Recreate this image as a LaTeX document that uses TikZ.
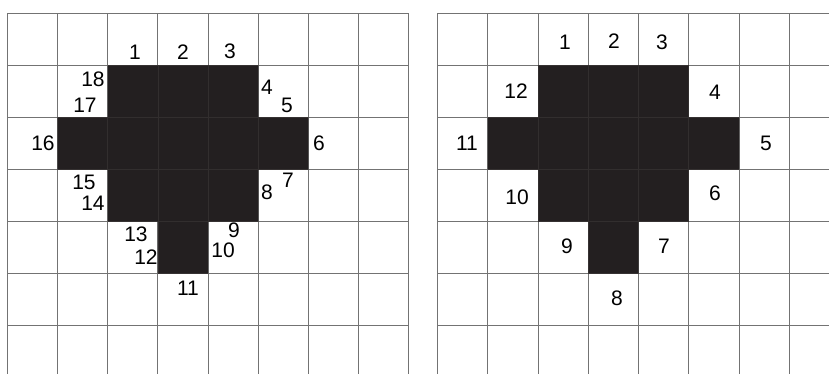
\documentclass[tikz,border=0pt]{standalone}
\usepackage{fontspec}
\setmainfont{Liberation Sans}
\definecolor{gridc}{RGB}{115,115,115}
\definecolor{blk}{RGB}{35,31,32}
\definecolor{innerc}{RGB}{50,46,46}
\newcommand\blobpath[2]{%
  ({#1+#2*2},13.3+52.07*1) -- ({#1+#2*5},13.3+52.07*1) -- ({#1+#2*5},13.3+52.07*2) --
  ({#1+#2*6},13.3+52.07*2) -- ({#1+#2*6},13.3+52.07*3) -- ({#1+#2*5},13.3+52.07*3) --
  ({#1+#2*5},13.3+52.07*4) -- ({#1+#2*4},13.3+52.07*4) -- ({#1+#2*4},13.3+52.07*5) --
  ({#1+#2*3},13.3+52.07*5) -- ({#1+#2*3},13.3+52.07*4) -- ({#1+#2*2},13.3+52.07*4) --
  ({#1+#2*2},13.3+52.07*3) -- ({#1+#2*1},13.3+52.07*3) -- ({#1+#2*1},13.3+52.07*2) --
  ({#1+#2*2},13.3+52.07*2) -- cycle}
\begin{document}
\begin{tikzpicture}[x=1pt,y=-1pt,
  gridline/.style={draw=gridc,line width=1pt},
  innerline/.style={draw=innerc,line width=0.9pt},
  cell/.style={fill=blk},
  lab/.style={font=\fontsize{21}{25}\selectfont,inner sep=0pt,anchor=center}]
\useasboundingbox (0,0) rectangle (829,374);
\fill[white] (0,0) rectangle (829,374);
% left grid
\foreach \i in {0,...,8} \draw[gridline] ({7.5+50.15*\i},13.3) -- ({7.5+50.15*\i},374);
\foreach \j in {0,...,6} \draw[gridline] (7.5,{13.3+52.07*\j}) -- (408.7,{13.3+52.07*\j});
% right grid
\foreach \i in {0,...,7} \draw[gridline] ({437.5+50.25*\i},13.3) -- ({437.5+50.25*\i},374);
\foreach \j in {0,...,6} \draw[gridline] (437.5,{13.3+52.07*\j}) -- (829,{13.3+52.07*\j});
% black blobs
\fill[cell] \blobpath{7.5}{50.15};
\fill[cell] \blobpath{437.5}{50.25};
\begin{scope}
  \clip \blobpath{7.5}{50.15};
  \foreach \i in {0,...,8} \draw[innerline] ({7.5+50.15*\i},13.3) -- ({7.5+50.15*\i},374);
  \foreach \j in {0,...,6} \draw[innerline] (7.5,{13.3+52.07*\j}) -- (408.7,{13.3+52.07*\j});
\end{scope}
\begin{scope}
  \clip \blobpath{437.5}{50.25};
  \foreach \i in {0,...,7} \draw[innerline] ({437.5+50.25*\i},13.3) -- ({437.5+50.25*\i},374);
  \foreach \j in {0,...,6} \draw[innerline] (437.5,{13.3+52.07*\j}) -- (829,{13.3+52.07*\j});
\end{scope}
% left labels
\node[lab] (a1) at (135,52) {1};
\node[lab] (a2) at (183,52) {2};
\node[lab] (a3) at (230,51) {3};
\node[lab] (a4) at (267,87) {4};
\node[lab] (a5) at (287,105) {5};
\node[lab] (a6) at (319,143) {6};
\node[lab] (a7) at (288,180) {7};
\node[lab] (a8) at (267,192) {8};
\node[lab] (a9) at (234,230) {9};
\node[lab] (a10) at (223,250) {10};
\node[lab] (a11) at (188,288) {11};
\node[lab] (a12) at (146,257) {12};
\node[lab] (a13) at (136,234) {13};
\node[lab] (a14) at (93,203) {14};
\node[lab] (a15) at (84,182) {15};
\node[lab] (a16) at (43,143) {16};
\node[lab] (a17) at (85,105) {17};
\node[lab] (a18) at (93,79) {18};
% right labels
\node[lab] (b1) at (565,42) {1};
\node[lab] (b2) at (614,41) {2};
\node[lab] (b3) at (662,42) {3};
\node[lab] (b4) at (715,92) {4};
\node[lab] (b5) at (766,143) {5};
\node[lab] (b6) at (715,193) {6};
\node[lab] (b7) at (664,246) {7};
\node[lab] (b8) at (617,298) {8};
\node[lab] (b9) at (567,246) {9};
\node[lab] (b10) at (517,197) {10};
\node[lab] (b11) at (467,143) {11};
\node[lab] (b12) at (516,91) {12};
\end{tikzpicture}
\end{document}
